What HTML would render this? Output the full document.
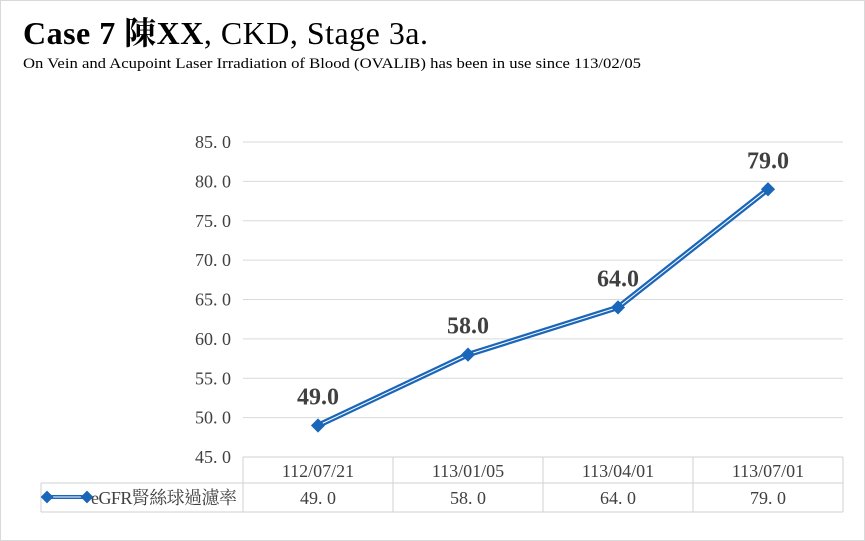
<!DOCTYPE html>
<html><head><meta charset="utf-8"><style>
body{margin:0;background:#fff;}
#wrap{position:relative;width:863px;height:539px;border:1px solid #d9d9d9;overflow:hidden;font-family:"Liberation Serif","Noto Serif CJK SC",serif;}
</style></head><body>
<div id="wrap">
<svg id="svg" width="865" height="541"></svg>
</div>
<script>
const categories=["112/07/21","113/01/05","113/04/01","113/07/01"];
const values=[49.0,58.0,64.0,79.0];
const yTicks=[45,50,55,60,65,70,75,80,85];
const seriesName="eGFR腎絲球過濾率";
const NS="http://www.w3.org/2000/svg";
const svg=document.getElementById('svg');
const X0=242,X1=842,Y0=456,Y1=141,YMIN=45,YMAX=85;
const colW=(X1-X0)/categories.length;
function xs(i){return X0+colW*(i+0.5);}
function ys(v){return Y0-(v-YMIN)/(YMAX-YMIN)*(Y0-Y1);}
function mk(tag,attrs,text){const e=document.createElementNS(NS,tag);for(const k in attrs)e.setAttribute(k,attrs[k]);if(text!=null)e.textContent=text;svg.appendChild(e);return e;}
const serif='"Liberation Serif","Noto Serif CJK TC",serif';
let t=mk('text',{x:22,y:43,'font-size':32,'font-weight':'bold','font-family':serif,'textLength':405});

t.innerHTML='Case 7 陳XX<tspan font-weight="normal">, CKD, Stage 3a.</tspan>';
t=mk('text',{x:22,y:67,'font-size':14.5,'font-family':serif,'textLength':618,'lengthAdjust':'spacingAndGlyphs'},'On Vein and Acupoint Laser Irradiation of Blood (OVALIB) has been in use since 113/02/05');

yTicks.forEach(v=>{
 if(v>YMIN){const g=mk('line',{x1:X0,x2:X1,y1:ys(v),y2:ys(v),stroke:'#d9d9d9','stroke-width':1});
 }
 const l=mk('text',{x:230,y:ys(v)+6,'text-anchor':'end','font-size':18,'font-family':serif,fill:'#404040'},v.toFixed(1).replace('.','. '));
 
});
const tb='#d0d0d0';
[[X0,456,X1,456],[40,482,X1,482],[40,511,X1,511],[40,482,40,511]].forEach(a=>{const e=mk('line',{x1:a[0],y1:a[1],x2:a[2],y2:a[3],stroke:tb});});
for(let i=0;i<=categories.length;i++){const e=mk('line',{x1:X0+colW*i,x2:X0+colW*i,y1:456,y2:511,stroke:tb});}
categories.forEach((c,i)=>{
 let e=mk('text',{x:xs(i),y:476,'text-anchor':'middle','font-size':18,fill:'#404040','font-family':serif},c);
 
 e=mk('text',{x:xs(i),y:503,'text-anchor':'middle','font-size':18,fill:'#404040','font-family':serif},values[i].toFixed(1).replace('.','. '));
 
});
let lk=mk('line',{x1:46,x2:86,y1:496,y2:496,stroke:'#1a66b8','stroke-width':4});

mk('line',{x1:46,x2:86,y1:496,y2:496,stroke:'#fff','stroke-width':1});
[46,86].forEach(x=>{const d=mk('rect',{x:x-4.5,y:491.5,width:9,height:9,fill:'#1a66b8',transform:`rotate(45 ${x} 496)`});});
lk=mk('text',{x:90,y:503,'font-size':18,fill:'#404040','font-family':serif,'textLength':146},seriesName);

const pts=values.map((v,i)=>xs(i)+','+ys(v)).join(' ');
let p=mk('polyline',{points:pts,fill:'none',stroke:'#1a66b8','stroke-width':5.5,'stroke-linejoin':'round'});

p=mk('polyline',{points:pts,fill:'none',stroke:'#ffffff','stroke-width':1});

values.forEach((v,i)=>{
 const x=xs(i),y=ys(v);
 let d=mk('rect',{x:x-5,y:y-5,width:10,height:10,fill:'#1a66b8',transform:`rotate(45 ${x} ${y})`});
 
 d=mk('text',{x:x,y:y-21,'text-anchor':'middle','font-size':24,'font-weight':'bold',fill:'#404040','font-family':serif},v.toFixed(1));
 
});
</script>
</body></html>
